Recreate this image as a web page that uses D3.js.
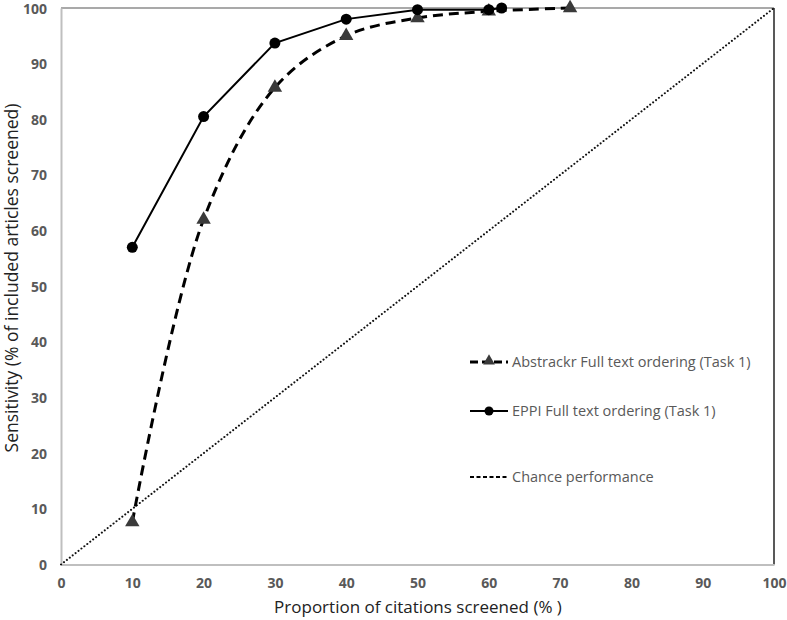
<!DOCTYPE html>
<html><head><meta charset="utf-8">
<script src="https://cdn.jsdelivr.net/npm/d3@7"></script>
<style>body{margin:0;background:#fff}</style>
</head><body>
<svg id="c" width="787" height="620"></svg>
<script>
const xTicks = [0,10,20,30,40,50,60,70,80,90,100];
const yTicks = [0,10,20,30,40,50,60,70,80,90,100];
const abstrackrX = [10,20,30,40,50,60,71.4];
const abstrackrY = [7.6,62,85.7,95,98.2,99.4,100];
const eppiX = [10,20,30,40,50,60,61.8];
const eppiY = [57,80.5,93.7,98,99.7,99.7,100];
const chanceX = [0,100];
const chanceY = [0,100];
const legendLabels = ["Abstrackr Full text ordering (Task 1)","EPPI Full text ordering (Task 1)","Chance performance"];

const svg = d3.select("#c");
const L=61, R=774, T=8, B=564.5;
const x = d3.scaleLinear().domain([0,100]).range([L,R]);
const y = d3.scaleLinear().domain([0,100]).range([B,T]);
const font = "'Open Sans', 'Liberation Sans', sans-serif";

// frame
svg.append("line").attr("x1",L).attr("x2",R).attr("y1",T).attr("y2",T).attr("stroke","#555").attr("stroke-width",1.2);
svg.append("line").attr("x1",R).attr("x2",R).attr("y1",T).attr("y2",B).attr("stroke","#222").attr("stroke-width",1.5);

// axes
const xa = svg.append("g").attr("transform",`translate(0,${B})`).call(d3.axisBottom(x).tickValues(xTicks).tickSize(0).tickPadding(14));
const ya = svg.append("g").attr("transform",`translate(${L},0)`).call(d3.axisLeft(y).tickValues(yTicks).tickSize(0).tickPadding(14));
[xa,ya].forEach(a=>{
  a.select(".domain").attr("stroke","#bfbfbf").attr("stroke-width",2);
  a.selectAll("text").attr("font-family",font).attr("font-size",14).attr("font-weight","bold").attr("fill","#595959");
});
ya.selectAll("text").attr("dy","0.36em");

// chance
const pts = (xs,ys)=>xs.map((v,i)=>[x(v),y(ys[i])]);
svg.append("path").attr("d",d3.line()(pts(chanceX,chanceY))).attr("fill","none")
  .attr("stroke","#111").attr("stroke-width",2).attr("stroke-dasharray","0.1 3.6").attr("stroke-linecap","round");

// abstrackr
const aP = pts(abstrackrX,abstrackrY);
svg.append("path").attr("d",d3.line().curve(d3.curveCatmullRom.alpha(0.5))(aP)).attr("fill","none")
  .attr("stroke","#000").attr("stroke-width",3).attr("stroke-dasharray","10 6");
const tri = d3.symbol().type(d3.symbolTriangle).size(90);
svg.selectAll(".tri").data(aP).join("path").attr("d",tri).attr("transform",d=>`translate(${d[0]},${d[1]})`).attr("fill","#3a3a3a");

// eppi
const eP = pts(eppiX,eppiY);
svg.append("path").attr("d",d3.line()(eP)).attr("fill","none").attr("stroke","#000").attr("stroke-width",2);
svg.selectAll(".cir").data(eP).join("circle").attr("cx",d=>d[0]).attr("cy",d=>d[1]).attr("r",5.5).attr("fill","#000");

// legend
const lg = svg.append("g");
const ly = [362,411,477];
lg.append("line").attr("x1",470).attr("x2",508).attr("y1",ly[0]).attr("y2",ly[0]).attr("stroke","#000").attr("stroke-width",3).attr("stroke-dasharray","8 4");
lg.append("path").attr("d",d3.symbol().type(d3.symbolTriangle).size(60)).attr("transform",`translate(489,${ly[0]-1})`).attr("fill","#3a3a3a");
lg.append("line").attr("x1",470).attr("x2",508).attr("y1",ly[1]).attr("y2",ly[1]).attr("stroke","#000").attr("stroke-width",2);
lg.append("circle").attr("cx",489).attr("cy",ly[1]).attr("r",4.5).attr("fill","#000");
lg.append("line").attr("x1",470).attr("x2",508).attr("y1",ly[2]).attr("y2",ly[2]).attr("stroke","#000").attr("stroke-width",2).attr("stroke-dasharray","4 2.5");
legendLabels.forEach((t,i)=>{
  lg.append("text").attr("x",512).attr("y",ly[i]).attr("dy","0.35em").attr("font-family",font).attr("font-size",14.5).attr("fill","#595959").text(t);
});

// titles
svg.append("text").attr("x",418).attr("y",607).attr("dy","0.35em").attr("text-anchor","middle").attr("font-family",font).attr("font-size",17).attr("fill","#222").text("Proportion of citations screened (% )");
svg.append("text").attr("transform","translate(12,278) rotate(-90)").attr("dy","0.35em").attr("text-anchor","middle").attr("font-family",font).attr("font-size",17.5).attr("fill","#222").text("Sensitivity (% of included articles screened)");
</script>
</body></html>
